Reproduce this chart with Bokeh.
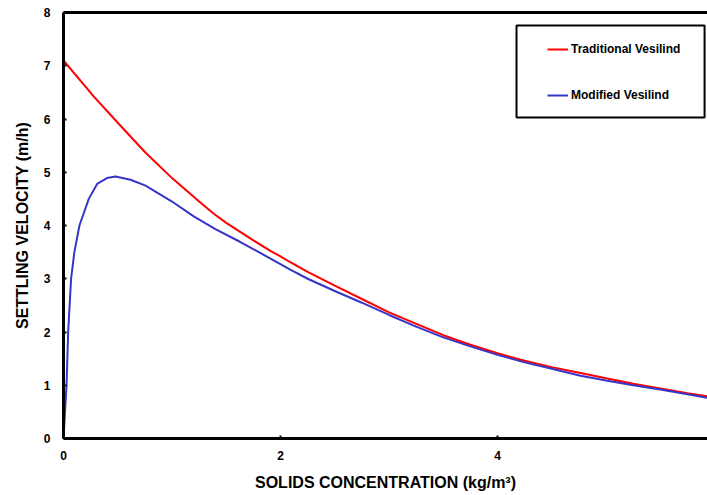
from bokeh.plotting import figure
from bokeh.models import (Range1d, FixedTicker, LinearAxis, Legend, LegendItem,
                          BoxAnnotation)
from bokeh.embed import file_html
from bokeh.resources import INLINE

# ---- data ----
trad_x = [0.0, 0.28, 0.5, 0.75, 1.0, 1.25, 1.385, 1.5, 1.75,
          1.91, 2.0, 2.09, 2.25, 2.5, 2.75, 3.0, 3.29, 3.5, 3.75, 4.0, 4.25,
          4.5, 4.765, 5.0, 5.25, 5.5, 5.75, 5.94]
trad_y = [7.10, 6.42, 5.93, 5.38, 4.89, 4.45, 4.22, 4.05, 3.72,
          3.52, 3.42, 3.31, 3.13, 2.87, 2.62, 2.37, 2.12, 1.94, 1.76, 1.60, 1.46,
          1.34, 1.23, 1.13, 1.03, 0.94, 0.85, 0.79]

mod_x = [0.0, 0.028, 0.043, 0.07, 0.10, 0.147, 0.233, 0.31, 0.40, 0.48, 0.617,
         0.756, 1.0, 1.20, 1.40, 1.63, 1.80, 2.09, 2.25, 2.5, 2.75, 3.0, 3.25,
         3.5, 3.75, 4.0, 4.25, 4.5, 4.765, 5.0, 5.25, 5.5, 5.75, 5.94]
mod_y = [0.0, 1.0, 2.0, 3.0, 3.5, 4.0, 4.5, 4.78, 4.89, 4.92, 4.86,
         4.75, 4.45, 4.17, 3.93, 3.69, 3.50, 3.17, 3.00, 2.77, 2.55, 2.32, 2.10,
         1.90, 1.73, 1.57, 1.43, 1.31, 1.18, 1.09, 1.00, 0.92, 0.83, 0.76]

x_ticks = [0, 2, 4]
y_ticks = [0, 1, 2, 3, 4, 5, 6, 7, 8]
series_names = ["Traditional Vesilind", "Modified Vesilind"]

FONT = "Liberation Sans"

p = figure(width=707, height=495, output_backend="svg", toolbar_location=None,
           x_range=Range1d(0, 5.935), y_range=Range1d(0, 8),
           min_border_left=63, min_border_right=0, min_border_top=12,
           min_border_bottom=57)
p.outline_line_color = None
p.xgrid.visible = False
p.ygrid.visible = False
p.background_fill_color = "white"
p.border_fill_color = "white"

r1 = p.line(trad_x, trad_y, line_color="#FF0000", line_width=2)
r2 = p.line(mod_x, mod_y, line_color="#3535C8", line_width=2)

for ax in (p.xaxis[0], p.yaxis[0]):
    ax.axis_line_width = 3
    ax.axis_line_color = "black"
    ax.axis_line_alpha = 1.0
    ax.major_tick_in = 3
    ax.major_tick_out = 0
    ax.major_tick_line_width = 2
    ax.major_tick_line_color = "black"
    ax.minor_tick_line_color = None
    ax.major_label_text_font = FONT
    ax.major_label_text_font_style = "bold"
    ax.major_label_text_font_size = "12px"
    ax.axis_label_text_font = FONT
    ax.axis_label_text_font_style = "bold"
    ax.axis_label_text_font_size = "16px"
    ax.axis_label_text_color = "black"
    ax.major_label_text_color = "black"

p.xaxis[0].ticker = FixedTicker(ticks=x_ticks)
p.yaxis[0].ticker = FixedTicker(ticks=y_ticks)
p.xaxis[0].axis_label = "SOLIDS CONCENTRATION (kg/m\u00b3)"
p.yaxis[0].axis_label = "SETTLING VELOCITY (m/h)"
p.xaxis[0].major_label_standoff = 12
p.xaxis[0].axis_label_standoff = 11
p.yaxis[0].major_label_standoff = 13
p.yaxis[0].axis_label_standoff = 10

top = LinearAxis(axis_line_width=3, axis_line_color="black",
                 major_tick_in=0, major_tick_out=0, minor_tick_line_color=None,
                 major_tick_line_color=None,
                 major_label_text_font_size="1px", major_label_text_alpha=0,
                 major_label_standoff=0,
                 ticker=FixedTicker(ticks=[0]))
p.add_layout(top, "above")

box = BoxAnnotation(left=4.175, right=5.908, top=7.756, bottom=6.03,
                    fill_color="white", fill_alpha=1.0,
                    line_color="black", line_alpha=1.0, line_width=2)
p.add_layout(box)

legend = Legend(items=[LegendItem(label=series_names[0], renderers=[r1]),
                       LegendItem(label=series_names[1], renderers=[r2])],
                location=(484, 333), padding=0, spacing=26,
                glyph_height=20, glyph_width=21, label_standoff=3,
                border_line_color=None, background_fill_alpha=0,
                label_text_font=FONT, label_text_font_style="bold",
                label_text_font_size="12px", label_text_color="black")
p.add_layout(legend)

open("out.html", "w").write(file_html(p, INLINE))
